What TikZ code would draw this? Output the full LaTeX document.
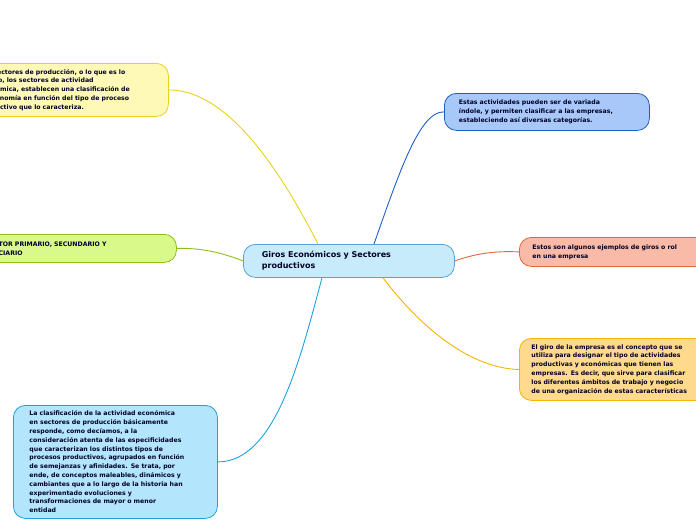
\documentclass[tikz,border=0pt]{standalone}
\usepackage{fontspec}
\setmainfont{DejaVu Sans}
\begin{document}
\begin{tikzpicture}[x=1pt,y=-1pt,
 box/.style={draw,rounded corners=12pt,line width=0.8pt,anchor=north west,inner sep=0pt,align=left,font=\bfseries\fontsize{6.2}{8.8}\selectfont,text=black!85!blue},
 con/.style={line width=0.9pt}]
\useasboundingbox (0,0) rectangle (696,520);
\clip (0,0) rectangle (696,520);
\definecolor{cfill}{HTML}{C8EBFB}\definecolor{cline}{HTML}{5AA0D8}
\definecolor{yfill}{HTML}{FFF9B8}\definecolor{yline}{HTML}{E8D21A}
\definecolor{gfill}{HTML}{D9F98A}\definecolor{gline}{HTML}{8FBF1A}
\definecolor{bfill}{HTML}{B3E5FC}\definecolor{bline}{HTML}{1EA1E0}
\definecolor{tfill}{HTML}{A9C8FA}\definecolor{tline}{HTML}{1F5FC8}
\definecolor{sfill}{HTML}{F9BBA8}\definecolor{sline}{HTML}{E8643C}
\definecolor{ofill}{HTML}{FFD98C}\definecolor{oline}{HTML}{F5B400}
% boxes
\node[box,fill=cfill,draw=cline,minimum width=211pt,minimum height=33pt,font=\bfseries\fontsize{8}{11}\selectfont,text width=200pt] (c) at (243,244) {\hspace*{13pt}Giros Económicos y Sectores\\\hspace*{13pt}productivos};
\node[box,fill=yfill,draw=yline,minimum width=208pt,minimum height=53pt,text width=200pt] (y) at (-40,63) {\hspace*{15pt}Los sectores de producción, o lo que es lo\\\hspace*{15pt}mismo, los sectores de actividad\\\hspace*{15pt}económica, establecen una clasificación de\\\hspace*{15pt}la economía en función del tipo de proceso\\\hspace*{15pt}productivo que lo caracteriza.};
\node[box,fill=gfill,draw=gline,minimum width=216pt,minimum height=28pt,text width=200pt] (g) at (-40,234) {\hspace*{17pt}SECTOR PRIMARIO, SECUNDARIO Y\\\hspace*{17pt}TERCIARIO};
\node[box,fill=bfill,draw=bline,minimum width=204pt,minimum height=113pt,text width=200pt] (b) at (13,405) {\hspace*{14pt}\parbox[t]{186pt}{La clasificación de la actividad económica\\en sectores de producción básicamente\\responde, como decíamos, a la\\consideración atenta de las especificidades\\que caracterizan los distintos tipos de\\procesos productivos, agrupados en función\\de semejanzas y afinidades. Se trata, por\\ende, de conceptos maleables, dinámicos y\\cambiantes que a lo largo de la historia han\\experimentado evoluciones y\\transformaciones de mayor o menor\\entidad}};
\node[box,fill=tfill,draw=tline,minimum width=205pt,minimum height=37pt,text width=200pt] (t) at (444,93) {\hspace*{12pt}Estas actividades pueden ser de variada\\\hspace*{12pt}índole, y permiten clasificar a las empresas,\\\hspace*{12pt}estableciendo así diversas categorías.};
\node[box,fill=sfill,draw=sline,minimum width=200pt,minimum height=29pt,text width=200pt] (s) at (519,237) {\hspace*{13pt}Estos son algunos ejemplos de giros o rol\\\hspace*{13pt}en una empresa};
\node[box,fill=ofill,draw=oline,minimum width=200pt,minimum height=62pt,text width=210pt] (o) at (519,338) {\hspace*{12pt}El giro de la empresa es el concepto que se\\\hspace*{12pt}utiliza para designar el tipo de actividades\\\hspace*{12pt}productivas y económicas que tienen las\\\hspace*{12pt}empresas. Es decir, que sirve para clasificar\\\hspace*{12pt}los diferentes ámbitos de trabajo y negocio\\\hspace*{12pt}de una organización de estas características};
% connectors
\draw[con,yline] ([xshift=75pt]c.north west) .. controls (270,150) and (220,90) .. (y.east);
\draw[con,gline] (c.west) .. controls (215,250) and (195,248) .. (g.east);
\draw[con,bline] ([xshift=79pt]c.south west) .. controls (300,360) and (275,462) .. (b.east);
\draw[con,tline] ([xshift=131pt]c.north west) .. controls (400,170) and (420,111) .. (t.west);
\draw[con,sline] (c.east) .. controls (480,252) and (500,251) .. (s.west);
\draw[con,oline] ([xshift=140pt]c.south west) .. controls (430,340) and (480,369) .. (o.west);
\end{tikzpicture}
\end{document}
